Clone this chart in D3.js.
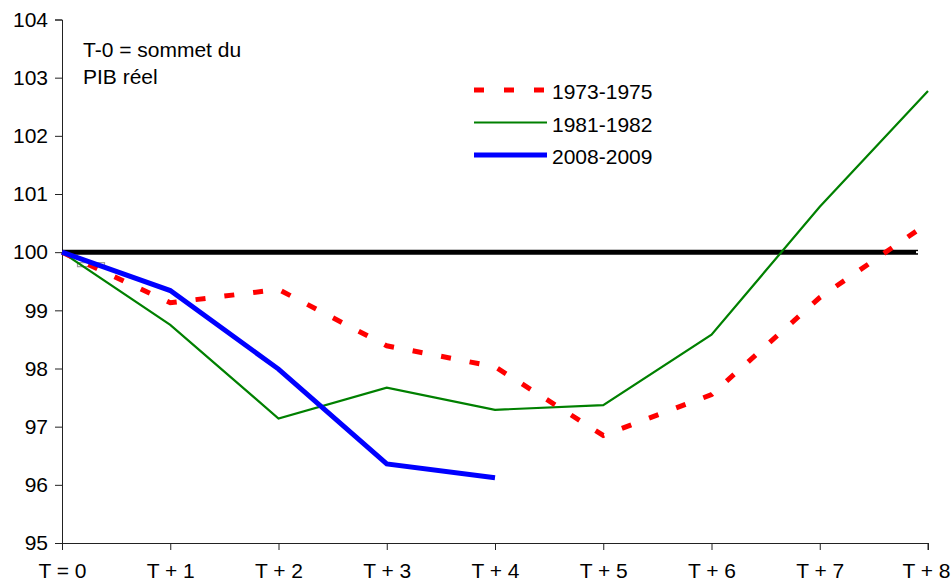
<!DOCTYPE html>
<html>
<head>
<meta charset="utf-8">
<script src="https://cdn.jsdelivr.net/npm/d3@7"></script>
<style>
  html, body { margin: 0; padding: 0; background: #fff; }
  svg { display: block; }
  text { font-family: "Liberation Sans", Arial, sans-serif; fill: #000; }
</style>
</head>
<body>
<svg id="chart" width="951" height="582"></svg>
<script>
const categories = ["T = 0", "T + 1", "T + 2", "T + 3", "T + 4", "T + 5", "T + 6", "T + 7", "T + 8"];
const s1973 = [100, 99.13, 99.36, 98.39, 98.03, 96.85, 97.55, 99.22, 100.5];
const s1981 = [100, 98.75, 97.14, 97.67, 97.29, 97.37, 98.58, 100.78, 102.77];
const s2008 = [100, 99.34, 97.99, 96.36, 96.12];
const baseline = [100, 100, 100, 100, 100, 100, 100, 100, 100];
const yTicks = [95, 96, 97, 98, 99, 100, 101, 102, 103, 104];
const seriesNames = ["1973-1975", "1981-1982", "2008-2009"];
const noteLines = ["T-0 = sommet du", "PIB réel"];

const svg = d3.select("#chart");
const x = d3.scalePoint().domain(categories).range([62, 928]);
const y = d3.scaleLinear().domain([95, 104]).range([543, 19.5]);

// axes
const yAxis = d3.axisLeft(y).tickValues(yTicks).tickSize(7).tickPadding(7).tickFormat(d3.format("d"));
const gy = svg.append("g").attr("transform", "translate(62,0)").call(yAxis);
gy.select(".domain").attr("stroke", "#222");
gy.selectAll(".tick line").attr("stroke", "#222");
gy.selectAll(".tick text").attr("font-size", 21).attr("font-family", "Liberation Sans, Arial, sans-serif").attr("fill", "#000");

const xAxis = d3.axisBottom(x).tickSize(7);
const gx = svg.append("g").attr("transform", "translate(0,543)").call(xAxis);
gx.select(".domain").attr("stroke", "#222").attr("d", `M${x(categories[0])},0.5H${x(categories[8])}V7`);
gx.selectAll(".tick line").attr("stroke", "#222");
gx.selectAll(".tick text").attr("font-size", 21).attr("y", 34.5).attr("dy", null)
  .attr("font-family", "Liberation Sans Narrow, Liberation Sans, Arial, sans-serif").attr("fill", "#000");
// keep the last label inside the picture
gx.selectAll(".tick text").filter(d => d === categories[categories.length - 1])
  .attr("text-anchor", "end").attr("x", 950 - x(categories[categories.length - 1]));

const line = d3.line().x((d, i) => x(categories[i])).y(d => y(d));

// reference line at 100
svg.append("path").datum(baseline)
  .attr("d", d3.line().x((d, i) => i === 8 ? x(categories[8]) - 10 : x(categories[i])).y(d => y(d)))
  .attr("fill", "none").attr("stroke", "#000").attr("stroke-width", 5);
svg.append("rect").attr("x", x(categories[8]) - 12).attr("y", y(100) - 1).attr("width", 2).attr("height", 2).attr("fill", "#fff");

// small grey marker near origin
svg.append("rect").attr("x", 77.5).attr("y", y(100) + 10.5).attr("width", 27).attr("height", 4)
  .attr("fill", "#fff").attr("stroke", "#999").attr("stroke-width", 1.2);

svg.append("path").datum(s1981).attr("d", line)
  .attr("fill", "none").attr("stroke", "#008000").attr("stroke-width", 2.2);
svg.append("path").datum(s1973).attr("d", line)
  .attr("fill", "none").attr("stroke", "#ff0000").attr("stroke-width", 5).attr("stroke-dasharray", "10,19");
svg.append("path").datum(s2008).attr("d", line)
  .attr("fill", "none").attr("stroke", "#0000ff").attr("stroke-width", 5);

// annotation
const note = svg.append("text").attr("x", 83).attr("y", 57).attr("font-size", 21);
noteLines.forEach((t, i) => note.append("tspan").attr("x", 83).attr("dy", i === 0 ? 0 : 26.5).text(t));

// legend
const legendStyles = [
  { stroke: "#ff0000", width: 5, dash: "10,20" },
  { stroke: "#008000", width: 2.2, dash: null },
  { stroke: "#0000ff", width: 5, dash: null }
];
const lg = svg.append("g");
seriesNames.forEach((name, i) => {
  const cy = 90 + i * 32.5;
  lg.append("line").attr("x1", 474).attr("x2", 547).attr("y1", cy).attr("y2", cy)
    .attr("stroke", legendStyles[i].stroke).attr("stroke-width", legendStyles[i].width)
    .attr("stroke-dasharray", legendStyles[i].dash);
  lg.append("text").attr("x", 552).attr("y", cy + 9).attr("font-size", 21).text(name);
});
</script>
</body>
</html>
